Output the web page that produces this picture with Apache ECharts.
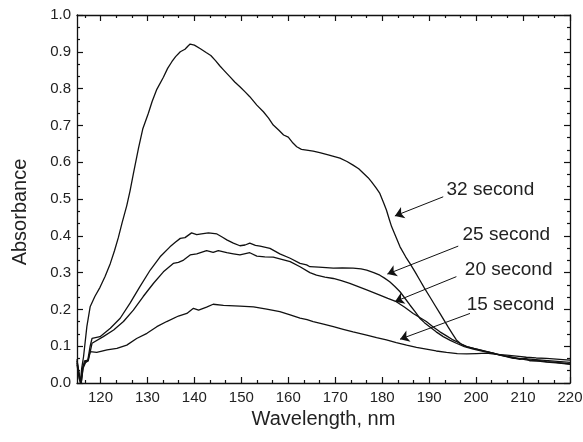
<!DOCTYPE html>
<html>
<head>
<meta charset="utf-8">
<script src="https://cdn.jsdelivr.net/npm/echarts@6/dist/echarts.min.js"></script>
<style>html,body{margin:0;padding:0;background:#fff}#c{width:583px;height:442px}</style>
</head>
<body>
<div id="c"></div>
<script>
// ---- data (wavelength nm, absorbance) ----
const s32 = [[115.0,0.065],[115.4,0.02],[115.7,0.0],[116.0,0.04],[116.4,0.072],[117.1,0.153],[117.8,0.207],[118.8,0.235],[119.9,0.26],[121.0,0.29],[122.1,0.325],[123.0,0.36],[123.8,0.395],[124.6,0.435],[125.6,0.482],[126.3,0.522],[127.0,0.568],[128.1,0.638],[129.0,0.69],[130.2,0.733],[131.0,0.765],[132.0,0.798],[133.4,0.831],[134.3,0.855],[135.2,0.873],[136.0,0.887],[137.0,0.9],[138.0,0.907],[138.6,0.915],[139.1,0.921],[140.0,0.918],[141.2,0.909],[142.5,0.898],[143.5,0.89],[144.5,0.876],[145.4,0.862],[146.2,0.851],[147.6,0.832],[148.6,0.818],[149.7,0.805],[150.8,0.791],[151.8,0.778],[153.3,0.755],[154.7,0.737],[155.8,0.72],[156.8,0.701],[158.0,0.687],[159.0,0.674],[160.0,0.668],[161.0,0.652],[161.8,0.642],[162.8,0.635],[163.9,0.633],[165.3,0.63],[166.7,0.626],[168.5,0.62],[171.0,0.611],[172.5,0.602],[173.8,0.592],[175.0,0.582],[176.0,0.57],[177.0,0.558],[177.7,0.547],[178.7,0.53],[179.5,0.515],[180.3,0.49],[180.9,0.47],[181.5,0.445],[182.0,0.425],[183.0,0.395],[183.8,0.37],[185.0,0.343],[185.9,0.325],[187.0,0.302],[188.0,0.28],[189.0,0.258],[190.1,0.235],[191.2,0.212],[192.3,0.189],[193.2,0.17],[194.0,0.153],[195.0,0.133],[195.8,0.117],[196.8,0.106],[198.0,0.099],[199.5,0.094],[200.8,0.09],[203.0,0.083],[205.0,0.076],[207.0,0.071],[209.3,0.064],[210.5,0.067],[211.5,0.06],[213.5,0.061],[215.0,0.058],[217.0,0.056],[219.2,0.053],[220.0,0.052]];
const s25 = [[115.0,0.06],[115.4,0.03],[115.8,0.0],[116.2,0.04],[116.6,0.06],[117.3,0.062],[117.8,0.1],[118.2,0.121],[119.9,0.126],[122.1,0.149],[124.2,0.176],[126.3,0.217],[128.4,0.262],[130.6,0.307],[132.7,0.343],[134.8,0.37],[136.0,0.383],[137.0,0.393],[138.0,0.395],[139.4,0.408],[140.5,0.403],[141.5,0.405],[143.0,0.408],[144.8,0.405],[146.0,0.396],[146.9,0.389],[148.3,0.38],[149.7,0.373],[150.8,0.375],[151.8,0.38],[153.0,0.374],[154.0,0.372],[156.1,0.366],[158.2,0.351],[160.4,0.339],[162.5,0.325],[163.9,0.321],[164.6,0.316],[166.5,0.315],[169.6,0.312],[171.5,0.313],[173.8,0.312],[175.5,0.31],[176.7,0.307],[178.2,0.3],[179.5,0.293],[180.5,0.285],[181.6,0.275],[182.7,0.262],[183.8,0.248],[184.8,0.231],[185.9,0.212],[187.0,0.194],[188.0,0.176],[189.0,0.164],[190.1,0.153],[191.5,0.139],[193.0,0.126],[194.5,0.116],[195.8,0.108],[197.5,0.099],[199.4,0.092],[201.5,0.086],[203.6,0.081],[205.8,0.074],[207.9,0.067],[210.0,0.066],[212.1,0.064],[214.0,0.062],[216.0,0.06],[218.0,0.058],[220.0,0.056]];
const s20 = [[115.0,0.055],[115.5,0.02],[115.9,0.0],[116.3,0.045],[116.8,0.058],[117.4,0.06],[117.9,0.09],[118.2,0.108],[120.6,0.126],[122.8,0.144],[124.9,0.167],[127.0,0.198],[129.1,0.235],[131.3,0.271],[133.4,0.302],[135.5,0.325],[136.6,0.328],[137.7,0.334],[139.1,0.348],[140.5,0.351],[142.6,0.36],[144.0,0.355],[145.1,0.36],[146.9,0.354],[148.3,0.351],[149.7,0.348],[151.8,0.354],[153.3,0.345],[155.0,0.343],[156.8,0.342],[158.6,0.336],[160.4,0.33],[162.5,0.316],[164.6,0.3],[166.0,0.293],[167.8,0.288],[169.6,0.284],[171.3,0.278],[173.1,0.271],[174.9,0.262],[176.7,0.253],[179.5,0.239],[181.2,0.23],[183.0,0.221],[184.8,0.206],[186.6,0.189],[188.0,0.178],[189.4,0.167],[190.8,0.153],[192.3,0.139],[193.7,0.128],[195.1,0.117],[196.5,0.108],[198.0,0.099],[200.1,0.092],[202.2,0.085],[204.3,0.079],[206.5,0.073],[208.6,0.068],[210.7,0.063],[212.8,0.06],[215.0,0.057],[217.1,0.055],[219.2,0.052],[220.0,0.051]];
const s15 = [[115.0,0.05],[115.5,0.01],[115.9,0.0],[116.3,0.04],[116.8,0.055],[117.3,0.06],[117.8,0.085],[119.2,0.083],[121.4,0.09],[123.5,0.094],[125.6,0.103],[127.7,0.121],[129.9,0.135],[132.0,0.153],[134.1,0.167],[136.6,0.182],[138.4,0.189],[139.8,0.203],[140.9,0.198],[142.6,0.206],[144.0,0.214],[146.2,0.211],[149.7,0.209],[152.6,0.207],[155.4,0.201],[158.2,0.194],[160.4,0.185],[162.5,0.176],[164.0,0.172],[165.3,0.167],[167.5,0.16],[169.6,0.153],[171.7,0.146],[173.8,0.139],[176.7,0.13],[178.8,0.123],[180.9,0.117],[183.0,0.11],[185.2,0.103],[187.3,0.097],[189.4,0.092],[191.5,0.087],[193.7,0.083],[196.0,0.08],[198.0,0.079],[200.1,0.08],[202.2,0.081],[204.3,0.078],[206.5,0.076],[208.6,0.073],[210.7,0.07],[212.8,0.068],[215.0,0.067],[217.1,0.065],[219.2,0.063],[220.0,0.062]];

const seriesNames = ['32 second','25 second','20 second','15 second'];
const seriesData = [s32, s25, s20, s15];

// annotation: label anchor [x,y], arrow tail [x,y], arrow head [x,y] (data units)
const labelPos = [[193.7,0.526],[197.1,0.402],[197.6,0.309],[198.0,0.212]];
const arrowTail = [[193.0,0.506],[196.2,0.372],[195.8,0.289],[198.7,0.189]];
const arrowHead = [[182.7,0.454],[181.1,0.296],[182.7,0.221],[183.8,0.119]];

const xMin = 115, xMax = 220;
const xMajor = [120,130,140,150,160,170,180,190,200,210,220];
const xMinor = [116.67,123.33,126.67,133.33,136.67,143.33,146.67,153.33,156.67,163.33,166.67,173.33,176.67,183.33,186.67,193.33,196.67,203.33,206.67,213.33,216.67];
const yMin = 0, yMax = 1, yStep = 0.1;

const FONT = 'Liberation Sans, Arial, Helvetica, sans-serif';
const INK = '#111';

const chart = echarts.init(document.getElementById('c'), null, {renderer:'canvas'});
const gridBox = {left:77, right:13, top:15, bottom:59, containLabel:false, outerBoundsMode:'none'};

function xAx(gridIndex, position, ticks, len, showLine, showLabel, extra){
  return Object.assign({
    type:'value', gridIndex, position, min:xMin, max:xMax,
    axisLine:{show:showLine, onZero:false, lineStyle:{color:INK, width:1.3}},
    axisTick:{show:true, inside:true, length:len, customValues:ticks, lineStyle:{color:INK, width:1.2}},
    axisLabel:{show:showLabel, customValues:ticks, margin:7, fontSize:15, color:'#222', fontFamily:FONT},
    splitLine:{show:false}
  }, extra||{});
}
function yAx(gridIndex, position, showLabel, showLine, extra){
  return Object.assign({
    type:'value', gridIndex, position, min:yMin, max:yMax, interval:yStep,
    axisLine:{show:showLine, onZero:false, lineStyle:{color:INK, width:1.3}},
    axisTick:{show:showLine, inside:true, length:6, lineStyle:{color:INK, width:1.2}},
    minorTick:{show:showLine, splitNumber:3, length:3, lineStyle:{color:INK, width:1.2}},
    axisLabel:{show:showLabel, margin:6, fontSize:15, color:'#222', fontFamily:FONT, formatter:v=>v.toFixed(1)},
    splitLine:{show:false}, minorSplitLine:{show:false}
  }, extra||{});
}

const series = seriesData.map((d,i)=>({
  type:'line', name:seriesNames[i], xAxisIndex:0, yAxisIndex:0, data:d,
  showSymbol:false, symbol:'none', smooth:false,
  lineStyle:{color:INK, width:1.3}, silent:true, animation:false,
  markLine:{
    silent:true, animation:false, symbol:['none','arrow'], symbolSize:9,
    lineStyle:{color:INK, width:1, type:'solid'}, itemStyle:{color:INK}, label:{show:false},
    data:[[{coord:arrowTail[i]},{coord:arrowHead[i]}]]
  },
  markPoint:{
    silent:true, animation:false, symbol:'circle', symbolSize:0,
    label:{show:true, formatter:seriesNames[i], position:'right', distance:0, fontSize:19, color:'#222', fontFamily:FONT},
    data:[{coord:labelPos[i]}]
  }
}));
// empty series so the minor-tick grid has computed axes
series.push({type:'line', xAxisIndex:2, yAxisIndex:2, data:[], silent:true});

chart.setOption({
  animation:false,
  backgroundColor:'#fff',
  grid:[Object.assign({}, gridBox), Object.assign({}, gridBox)],
  xAxis:[
    xAx(0,'bottom',xMajor,6,true,true,{name:'Wavelength, nm', nameLocation:'middle', nameGap:26, nameTextStyle:{fontSize:20, color:'#222', fontFamily:FONT}}),
    xAx(0,'top',xMajor,6,true,false),
    xAx(1,'bottom',xMinor,3,false,false),
    xAx(1,'top',xMinor,3,false,false)
  ],
  yAxis:[
    yAx(0,'left',true,true,{name:'Absorbance', nameLocation:'middle', nameGap:47, nameTextStyle:{fontSize:20, color:'#222', fontFamily:FONT, padding:[0,26,0,0]}}),
    yAx(0,'right',false,true),
    yAx(1,'left',false,false),
    yAx(1,'right',false,false)
  ],
  series
});
</script>
</body>
</html>
